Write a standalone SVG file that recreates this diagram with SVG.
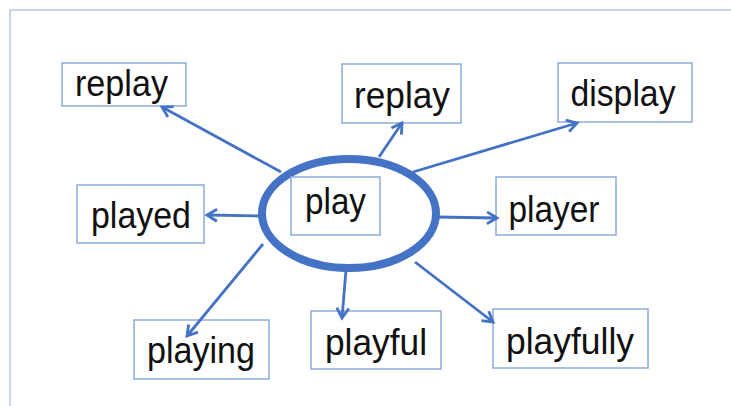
<svg xmlns="http://www.w3.org/2000/svg" width="731" height="406" viewBox="0 0 731 406">
<style>
.box{fill:#fff;stroke:#8faadc;stroke-width:1.5}
.t{font-family:"Liberation Sans",Arial,sans-serif;font-size:36px;fill:#111;text-anchor:middle}
.c{stroke:#4472c4;stroke-width:2.8;fill:none;marker-end:url(#ah)}
</style>
<defs>
<marker id="ah" markerUnits="userSpaceOnUse" markerWidth="16" markerHeight="16" viewBox="0 0 16 16" refX="13" refY="8" orient="auto">
<path d="M3,2 L13,8 L3,14" fill="none" stroke="#4472c4" stroke-width="2.8" stroke-linejoin="miter"/>
</marker>
</defs>
<rect width="731" height="406" fill="#fff"/>
<path d="M10,406 V10 H731" fill="none" stroke="#b4c7e7" stroke-width="1.5"/>
<g id="n-replay1"><rect class="box" x="62" y="63" width="124" height="43"/><text class="t" x="121.5" y="96" textLength="93" lengthAdjust="spacingAndGlyphs">replay</text></g>
<g id="n-replay2"><rect class="box" x="342" y="64" width="119" height="59"/><text class="t" x="402" y="108" textLength="96" lengthAdjust="spacingAndGlyphs">replay</text></g>
<g id="n-display"><rect class="box" x="558" y="63" width="134" height="59"/><text class="t" x="623" y="106" textLength="105" lengthAdjust="spacingAndGlyphs">display</text></g>
<g id="n-played"><rect class="box" x="77" y="185" width="127" height="58"/><text class="t" x="141" y="228" textLength="100" lengthAdjust="spacingAndGlyphs">played</text></g>
<g id="n-player"><rect class="box" x="496" y="177" width="120" height="58"/><text class="t" x="554" y="222" textLength="91" lengthAdjust="spacingAndGlyphs">player</text></g>
<g id="n-playing"><rect class="box" x="134" y="320" width="135" height="59"/><text class="t" x="201" y="363" textLength="108" lengthAdjust="spacingAndGlyphs">playing</text></g>
<g id="n-playful"><rect class="box" x="311" y="311" width="130" height="58"/><text class="t" x="376" y="355" textLength="102" lengthAdjust="spacingAndGlyphs">playful</text></g>
<g id="n-playfully"><rect class="box" x="493" y="309" width="155" height="59"/><text class="t" x="570" y="354" textLength="128" lengthAdjust="spacingAndGlyphs">playfully</text></g>
<g id="connectors">
<line class="c" x1="281" y1="172" x2="162" y2="107"/>
<line class="c" x1="379" y1="157" x2="402" y2="123"/>
<line class="c" x1="413" y1="172" x2="577" y2="123"/>
<line class="c" x1="259" y1="216" x2="207" y2="215"/>
<line class="c" x1="436" y1="217" x2="497" y2="218"/>
<line class="c" x1="263" y1="244" x2="187" y2="336"/>
<line class="c" x1="346" y1="270" x2="342" y2="318"/>
<line class="c" x1="415" y1="262" x2="493" y2="322"/>
</g>
<g id="n-play">
<ellipse cx="349" cy="213.5" rx="87" ry="54.5" fill="#fff" stroke="#4472c4" stroke-width="8"/>
<rect class="box" x="291" y="177" width="89" height="58"/>
<text class="t" x="335.5" y="214" textLength="61" lengthAdjust="spacingAndGlyphs">play</text>
</g>
</svg>
